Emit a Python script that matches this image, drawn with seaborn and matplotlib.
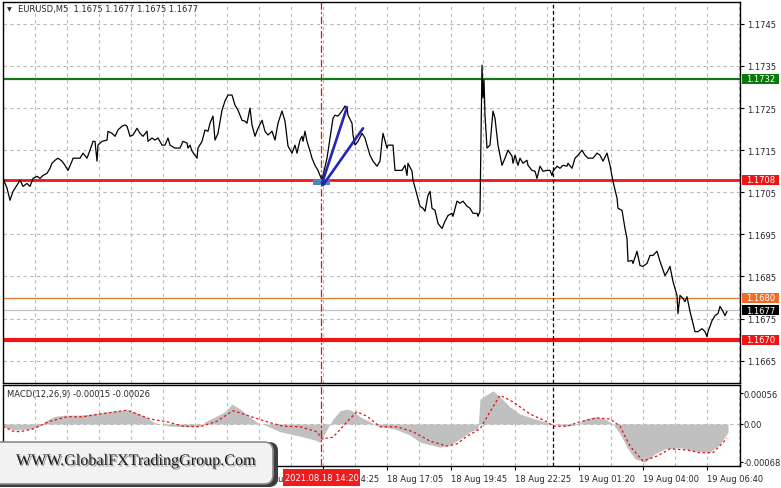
import numpy as np
import matplotlib
matplotlib.use('Agg')
import matplotlib.pyplot as plt
import matplotlib.transforms as mtrans
import matplotlib.patheffects as pe
from matplotlib.patches import Rectangle, FancyBboxPatch
import seaborn as sns

# --- values; x = index of the 5-minute bar (bar 0 = 18 Aug 01:05) ---
price_bar = [0, 2, 3.5, 5, 7, 8.5, 10, 12, 13.5, 15,
             17, 18.5, 20, 22, 23.5, 24.5, 26, 27.5, 29.5, 31,
             32.5, 34.5, 35, 38.5, 40, 42, 43.5, 45, 46, 47,
             47.5, 49.5, 52, 52.5, 54.5, 56, 57.5, 59.5, 61, 62,
             63.5, 65, 67, 68.5, 70, 72, 72.5, 74.5, 76, 77.5,
             79.5, 81, 82.5, 83.5, 86, 88.5, 90, 92, 92.5, 93.5,
             94.5, 96, 97, 97.5, 99.5, 101, 102.5, 103.5, 105, 106,
             107.5, 109.5, 111, 112.5, 114.5, 116, 117.5, 119.5, 121, 122,
             123.5, 124.5, 126, 127.5, 129.5, 131, 132.5, 134.5, 136, 137.5,
             139.5, 141, 142.5, 144.5, 146, 147, 148.5, 149.5, 150, 151,
             152, 153.5, 154.5, 156, 157.5, 158.5, 159.5, 160, 162, 163.5,
             165, 166, 167.5, 169.5, 171, 172, 172.5, 174.5, 175, 176,
             177.5, 179.5, 181, 182, 183.5, 185, 187, 188.5, 189.5, 190,
             192, 192.5, 195, 196, 199.5, 201, 202, 202.5, 204.5, 205,
             207, 208.5, 210, 211, 212.5, 213.5, 214.5, 216, 217.5, 219.5,
             221, 222.5, 224.5, 225, 227, 228.5, 230, 232, 233.5, 235,
             237, 237.5, 238.5, 239.5, 240, 240.5, 241, 242, 243.5, 245,
             246, 247.5, 249.5, 251, 252.5, 254.5, 255, 256, 257.5, 258.5,
             260, 262, 262.5, 264.5, 266, 267, 268.5, 270, 272, 273.5,
             274.5, 275, 277, 278.5, 280, 282, 282.5, 284.5, 286, 287.5,
             289.5, 291, 292.5, 295, 297, 298.5, 300, 302, 303.5, 305,
             307, 307.5, 309.5, 311, 312, 312.5, 314.5, 315, 317, 318.5,
             320, 322, 323.5, 325, 327, 328.5, 331, 332.5, 333.5, 335,
             337, 337.5, 338.5, 340, 341, 342, 343.5, 345, 346, 347.5,
             349.5, 351, 352, 352.5, 354.5, 356, 357.5, 358.5, 360, 361,
             362]
price_val = [1.17083, 1.17060, 1.17031, 1.17052, 1.17067, 1.17079, 1.17064, 1.17071, 1.17064, 1.17083,
             1.17088, 1.17083, 1.17090, 1.17095, 1.17107, 1.17119, 1.17126, 1.17131, 1.17124, 1.17114,
             1.17102, 1.17124, 1.17131, 1.17131, 1.17143, 1.17131, 1.17150, 1.17171, 1.17171, 1.17124,
             1.17162, 1.17171, 1.17174, 1.17195, 1.17190, 1.17183, 1.17198, 1.17207, 1.17210, 1.17207,
             1.17183, 1.17186, 1.17202, 1.17190, 1.17183, 1.17195, 1.17171, 1.17179, 1.17174, 1.17179,
             1.17162, 1.17162, 1.17179, 1.17162, 1.17155, 1.17155, 1.17171, 1.17167, 1.17155, 1.17162,
             1.17148, 1.17138, 1.17131, 1.17155, 1.17171, 1.17198, 1.17195, 1.17214, 1.17231, 1.17174,
             1.17190, 1.17245, 1.17267, 1.17281, 1.17281, 1.17257, 1.17245, 1.17221, 1.17219, 1.17214,
             1.17250, 1.17210, 1.17183, 1.17202, 1.17221, 1.17195, 1.17186, 1.17195, 1.17174, 1.17214,
             1.17243, 1.17219, 1.17160, 1.17143, 1.17162, 1.17143, 1.17174, 1.17183, 1.17171, 1.17195,
             1.17171, 1.17148, 1.17131, 1.17114, 1.17102, 1.17090, 1.17079, 1.17090, 1.17131, 1.17179,
             1.17226, 1.17233, 1.17231, 1.17243, 1.17255, 1.17250, 1.17233, 1.17214, 1.17186, 1.17162,
             1.17171, 1.17190, 1.17179, 1.17162, 1.17138, 1.17124, 1.17112, 1.17124, 1.17171, 1.17190,
             1.17155, 1.17162, 1.17162, 1.17102, 1.17102, 1.17114, 1.17090, 1.17119, 1.17100, 1.17079,
             1.17043, 1.17017, 1.17012, 1.17005, 1.17043, 1.17052, 1.17012, 1.17007, 1.16976, 1.16964,
             1.16981, 1.16995, 1.17000, 1.16993, 1.17029, 1.17024, 1.17029, 1.17017, 1.17012, 1.17000,
             1.17000, 1.16993, 1.17005, 1.17352, 1.17274, 1.17317, 1.17233, 1.17155, 1.17162, 1.17243,
             1.17226, 1.17162, 1.17114, 1.17131, 1.17150, 1.17136, 1.17119, 1.17138, 1.17114, 1.17131,
             1.17119, 1.17126, 1.17114, 1.17102, 1.17100, 1.17083, 1.17112, 1.17100, 1.17102, 1.17102,
             1.17090, 1.17100, 1.17112, 1.17107, 1.17114, 1.17112, 1.17119, 1.17107, 1.17131, 1.17138,
             1.17150, 1.17138, 1.17131, 1.17131, 1.17143, 1.17138, 1.17124, 1.17143, 1.17114, 1.17076,
             1.17036, 1.17012, 1.17007, 1.16964, 1.16940, 1.16886, 1.16888, 1.16881, 1.16910, 1.16876,
             1.16874, 1.16881, 1.16900, 1.16900, 1.16910, 1.16886, 1.16852, 1.16864, 1.16874, 1.16838,
             1.16805, 1.16762, 1.16805, 1.16798, 1.16790, 1.16802, 1.16767, 1.16738, 1.16719, 1.16719,
             1.16726, 1.16719, 1.16707, 1.16719, 1.16745, 1.16757, 1.16762, 1.16779, 1.16767, 1.16757,
             1.16767]

macd_bar = [0, 6, 13.5, 18.5, 21, 26, 31, 38.5, 48.5, 56,
            61, 66, 71, 76, 78.5, 83.5, 93.5, 98.5, 101, 106,
            111, 114.5, 118.5, 123.5, 127.5, 131, 138.5, 148.5, 156, 158.5,
            161.5, 165, 168.5, 172, 174.5, 178.5, 183.5, 186, 188.5, 196,
            203.5, 208.5, 218.5, 223.5, 228.5, 233.5, 237.5, 238.5, 241, 245,
            248.5, 253.5, 258.5, 266, 275, 281, 286, 291, 296, 301,
            305, 308.5, 312.5, 316, 321, 326, 331, 338.5, 346, 353.5,
            358.5, 362.5]
macd_val = [-0.00005, -0.00011, -0.00009, -0.00004, 0.00005, 0.00014, 0.00016, 0.00016, 0.00020, 0.00024,
            0.00025, 0.00022, 0.00013, 0.00002, 0.0, -0.00004, -0.00005, -0.00004, 0.00004, 0.00013,
            0.00022, 0.00036, 0.00027, 0.00013, 0.00002, -0.00002, -0.00014, -0.00022, -0.00029, -0.00033,
            -0.00013, 0.00009, 0.00024, 0.00027, 0.00024, 0.00013, 0.00004, -0.00002, -0.00005, -0.00009,
            -0.00020, -0.00033, -0.00042, -0.00038, -0.00027, -0.00014, -0.00009, 0.00045, 0.00051, 0.00060,
            0.00049, 0.00031, 0.00018, 0.00009, 0.0, -0.00004, -0.00002, 0.00009, 0.00013, 0.00009,
            0.0, -0.00018, -0.00045, -0.00063, -0.00069, -0.00054, -0.00045, -0.00043, -0.00049, -0.00051,
            -0.00036, -0.00015]

signal_bar = [0, 5, 8.5, 15, 23.5, 32, 40, 48.5, 62, 73.5,
              82, 90, 98.5, 107, 115, 123.5, 132, 140, 148.5, 157,
              159.5, 165, 172, 177, 182, 188.5, 197, 205, 213.5, 222,
              227, 232, 238.5, 243.5, 248.5, 255, 263.5, 272, 275, 282,
              288.5, 297, 303.5, 308.5, 313.5, 320, 327, 333.5, 342, 348.5,
              355, 362]
signal_val = [-0.00004, -0.00013, -0.00014, -0.00009, 0.00005, 0.00013, 0.00013, 0.00018, 0.00025, 0.00009,
              0.00004, -0.00004, -0.00005, 0.00005, 0.00024, 0.00014, 0.00004, -0.00004, -0.00005, -0.00014,
              -0.00027, -0.00024, 0.00004, 0.00022, 0.00014, -0.00005, -0.00005, -0.00014, -0.00031, -0.00040,
              -0.00036, -0.00022, -0.00009, 0.00022, 0.00052, 0.00040, 0.00018, 0.00004, -0.00004, -0.00004,
              0.00004, 0.00011, 0.00009, -0.00004, -0.00040, -0.00067, -0.00058, -0.00045, -0.00047, -0.00052,
              -0.00052, -0.00026]

price_ticks = [1.1745, 1.1735, 1.1725, 1.1715, 1.1705, 1.1695, 1.1685, 1.1675, 1.1665]
macd_ticks = [0.00056, 0.0, -0.00068]
macd_tick_labels = ['0.00056', '0.00', '-0.00068']
time_bars = [0, 32, 64, 96, 128, 160, 192, 224, 256, 288, 320, 352]
time_labels = ['18 Aug 01:05', '18 Aug 03:45', '18 Aug 06:25', '18 Aug 09:05',
               '18 Aug 11:45', '18 Aug 14:25', '18 Aug 17:05', '18 Aug 19:45',
               '18 Aug 22:25', '19 Aug 01:20', '19 Aug 04:00', '19 Aug 06:40']

# horizontal levels: (price, line colour, width, tag colour, tag text colour)
levels = [(1.1732, '#137a13', 1.6, '#0c780c', 'white'),
          (1.1708, '#f01414', 2.0, '#f01414', 'white'),
          (1.1680, '#e0782e', 0.9, '#f06a28', 'white'),
          (1.1677, '#c4c4c4', 0.9, '#000000', 'white'),
          (1.1670, '#f01414', 3.0, '#f01414', 'white')]

marker_bar = 159          # 2021.08.18 14:20
marker_label = '2021.08.18 14:20'
cursor_bar = 275
trend_a = ([159.5, 172], [1.17071, 1.17252])
trend_b = ([160, 180], [1.17067, 1.17202])
zone_bars = (155, 163.5)
zone_prices = (1.17067, 1.17081)

title = 'EURUSD,M5  1.1675 1.1677 1.1675 1.1677'
macd_title = 'MACD(12,26,9) -0.00015 -0.00026'
watermark = 'WWW.GlobalFXTradingGroup.Com'

sns.set_theme(style='white')
plt.rcParams['font.family'] = ['DejaVu Sans']
plt.rcParams['axes.edgecolor'] = 'black'
plt.rcParams['axes.linewidth'] = 1.0

W, H = 781, 489
fs = 6.0
fig = plt.figure(figsize=(W / 100, H / 100), dpi=100)
fig.patch.set_facecolor('white')


def px_box(l, t, r, b):
    return [l / W, 1 - b / H, (r - l) / W, (b - t) / H]


ax = fig.add_axes(px_box(3, 3, 740, 384))
ax2 = fig.add_axes(px_box(3, 386, 740, 467))

grid_kw = dict(color='#b8b8b8', linestyle=(0, (3, 3)), linewidth=0.8)

# ---------------- price panel ----------------
sns.lineplot(x=price_bar, y=price_val, ax=ax, color='black', linewidth=0.9,
             estimator=None, sort=False, zorder=3)
ax.set_xlim(0, 368.5)
ax.set_ylim(1.16597, 1.17502)
ax.set_xticks(np.arange(0, 369, 16))
ax.set_yticks(price_ticks)
ax.set_yticklabels([f'{p:.4f}' for p in price_ticks])
ax.grid(True, **grid_kw)
ax.set_axisbelow(True)
ax.tick_params(axis='x', bottom=False, labelbottom=False)
ax.tick_params(axis='y', left=False, labelleft=False, right=True, labelright=True,
               length=3, width=0.8, color='black', pad=2, labelsize=fs)
ax.set_xlabel('')
ax.set_ylabel('')

for p, lc, lw, tc, txc in levels:
    ax.axhline(p, color=lc, linewidth=lw, zorder=2)

ax.axvline(marker_bar, color='#e41010', linewidth=0.9, linestyle=(0, (6, 2, 1.5, 2)), zorder=2)
ax.axvline(cursor_bar, color='black', linewidth=0.9, linestyle=(0, (3, 2)), zorder=2)

ax.add_patch(Rectangle((zone_bars[0], zone_prices[0]), zone_bars[1] - zone_bars[0],
                       zone_prices[1] - zone_prices[0], facecolor='#4f86b8',
                       edgecolor='none', zorder=4))
ax.plot(*trend_a, color='#2424b8', linewidth=1.9, zorder=5)
ax.plot(*trend_b, color='#2424b8', linewidth=1.9, zorder=5)

# price tags on the right scale
span = 1.17502 - 1.16597
tag_h = 10 * span / 381
tag_tr = mtrans.blended_transform_factory(fig.dpi_scale_trans, ax.transData)
for p, lc, lw, tc, txc in levels:
    ax.add_patch(Rectangle((7.42, p - tag_h / 2), 0.37, tag_h, transform=tag_tr,
                           facecolor=tc, edgecolor='none', clip_on=False, zorder=6))
    ax.text(7.605, p, f'{p:.4f}', transform=tag_tr, ha='center', va='center',
            color=txc, fontsize=fs, clip_on=False, zorder=7)

# ---------------- MACD panel ----------------
ax2.fill_between(macd_bar, 0, macd_val, color='#c0c0c0', linewidth=0, zorder=2)
sns.lineplot(x=signal_bar, y=signal_val, ax=ax2, color='#e41010', linewidth=0.9,
             linestyle=(0, (2, 2)), estimator=None, sort=False, zorder=3)
ax2.axhline(0, **grid_kw, zorder=1)
ax2.set_xlim(0, 368.5)
ax2.set_ylim(-0.00076, 0.000705)
ax2.set_yticks(macd_ticks)
ax2.set_yticklabels(macd_tick_labels)
ax2.set_xticks(time_bars)
ax2.set_xticklabels(time_labels, ha='left')
ax2.set_xticks(np.arange(0, 369, 16), minor=True)
ax2.grid(True, which='both', axis='x', **grid_kw)
ax2.set_axisbelow(True)
ax2.tick_params(axis='x', which='major', bottom=True, length=3, width=0.8, color='black',
                pad=2.5, labelsize=fs)
ax2.tick_params(axis='x', which='minor', bottom=False)
ax2.tick_params(axis='y', left=False, labelleft=False, right=True, labelright=True,
                length=2, width=0.8, color='black', pad=0.8, labelsize=fs)
ax2.axvline(marker_bar, color='#e41010', linewidth=0.9, linestyle=(0, (6, 2, 1.5, 2)), zorder=4)
ax2.axvline(cursor_bar, color='black', linewidth=0.9, linestyle=(0, (3, 2)), zorder=4)
ax2.set_xlabel('')
ax2.set_ylabel('')

# ---------------- texts ----------------
inch = fig.dpi_scale_trans
fig.text(0.07, (H - 10) / 100, '\u25bc', transform=inch, fontsize=4.5, va='center', ha='left')
fig.text(0.18, (H - 10) / 100, title, transform=inch, fontsize=fs, va='center', ha='left')
fig.text(0.07, (H - 395) / 100, macd_title, transform=inch, fontsize=fs, va='center', ha='left')

# red time marker label
fig.add_artist(Rectangle((2.83, (H - 487) / 100), 0.77, 0.17, transform=inch,
                         facecolor='#ee1c1c', edgecolor='none', zorder=5))
fig.text(3.215, (H - 478.5) / 100, marker_label, transform=inch, fontsize=fs,
         color='white', ha='center', va='center', zorder=6)

# watermark
fig.add_artist(FancyBboxPatch((-0.12, (H - 488) / 100), 2.9, 0.45, transform=inch,
                              boxstyle='round,pad=0,rounding_size=0.09',
                              facecolor='#3c3c3c', edgecolor='none', zorder=7))
fig.add_artist(FancyBboxPatch((-0.12, (H - 485) / 100), 2.85, 0.42, transform=inch,
                              boxstyle='round,pad=0,rounding_size=0.09',
                              facecolor='#f2f2f2', edgecolor='#8a8a8a', linewidth=1.2,
                              zorder=8))
fig.text(1.36, (H - 462) / 100, watermark, transform=inch, family='Liberation Serif',
         fontsize=11.6, color='#1c1c1c', ha='center', va='center', zorder=9,
         path_effects=[pe.withSimplePatchShadow(offset=(1, -1), shadow_rgbFace='#777777',
                                                alpha=0.7)])

fig.savefig('out.png', dpi=100)
